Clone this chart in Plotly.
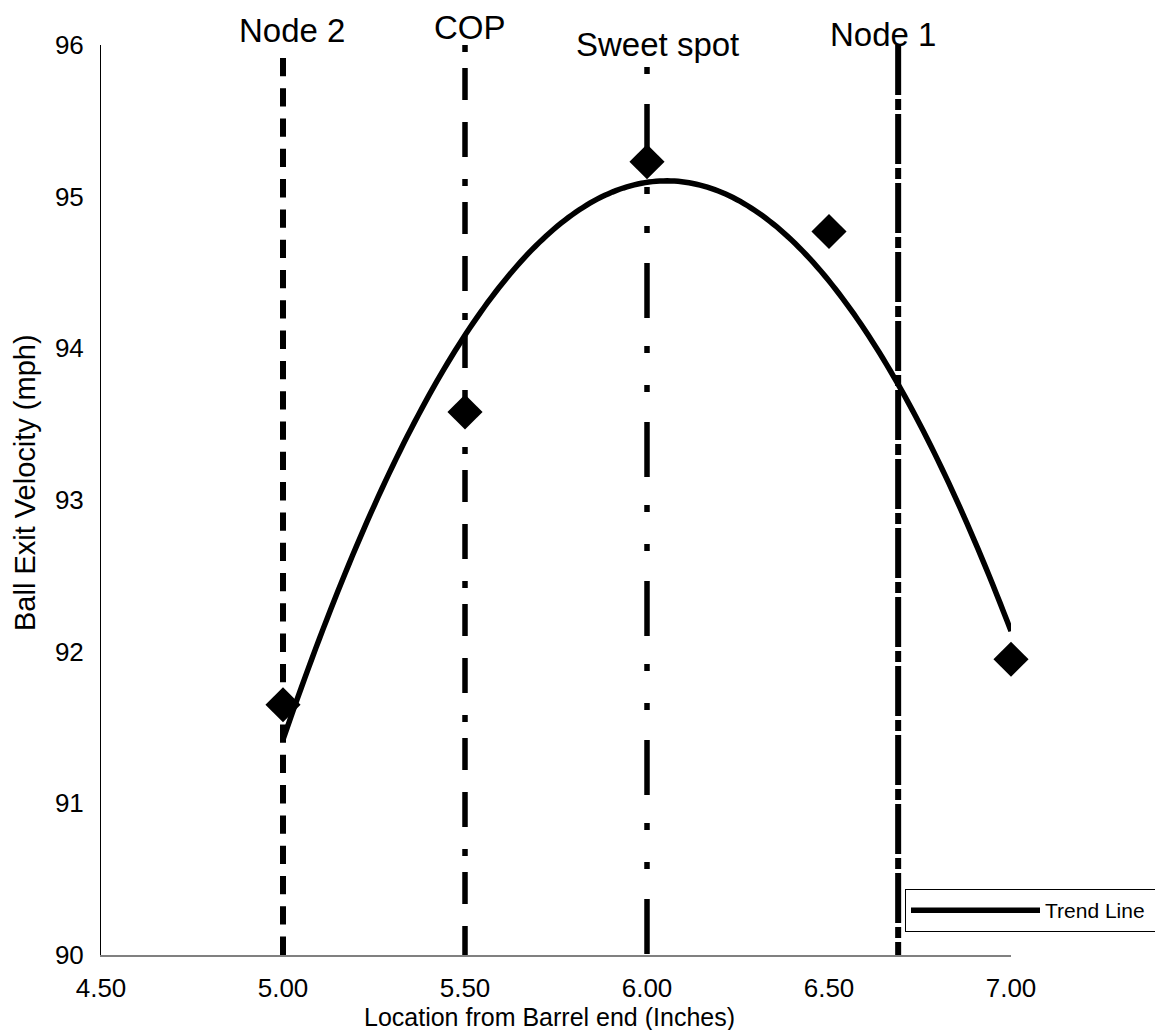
import numpy as np
import plotly.graph_objects as go

# ---- data ----
location = [5.00, 5.50, 6.00, 6.50, 7.00]
exit_velocity = [91.65, 93.58, 95.23, 94.77, 91.95]

ref_labels = ["Node 2", "COP", "Sweet spot", "Node 1"]
ref_x = [5.00, 5.50, 6.00, 6.69]

x_ticks = [4.50, 5.00, 5.50, 6.00, 6.50, 7.00]
y_ticks = [90, 91, 92, 93, 94, 95, 96]

# ---- styles ----
FONT = "Liberation Sans, Arial, sans-serif"
ref_styles = [
    dict(dash="18.3px,12px", width=6, top=95.915, xshift=9, ypx=30),
    dict(dash="7px,16px,32px,22px,35px,22px", width=5.5, top=96.0, xshift=5, ypx=27),
    dict(dash="7px,30px,55px,28px,7px,32px", width=5.5, top=95.855, xshift=10, ypx=44),
    dict(dash="50px,4px,11px,4px", width=6, top=96.0, xshift=-15, ypx=34),
]

W, H = 1155, 1030
ML, MR, MT, MB = 101, 144, 45, 75
PW = W - ML - MR
PH = H - MT - MB

fig = go.Figure()

# reference vertical lines
for lab, xv, st in zip(ref_labels, ref_x, ref_styles):
    fig.add_trace(go.Scatter(
        x=[xv, xv], y=[st["top"], y_ticks[0]], mode="lines",
        line=dict(color="black", width=st["width"], dash=st["dash"]),
        showlegend=False, hoverinfo="skip", cliponaxis=False))
    fig.add_annotation(
        x=xv, xref="x", y=1 + (MT - st["ypx"]) / PH, yref="paper",
        text=lab, showarrow=False, xshift=st["xshift"],
        xanchor="center", yanchor="middle",
        font=dict(family=FONT, size=33, color="black"))

# quadratic trend line (least-squares fit of the data)
coef = np.polyfit(location, exit_velocity, 2)
xt = np.linspace(min(location), max(location), 200)
fig.add_trace(go.Scatter(
    x=xt, y=np.polyval(coef, xt), mode="lines",
    name="Trend Line\u00a0\u00a0",
    line=dict(color="black", width=5.5, simplify=False), cliponaxis=False))

# data points
fig.add_trace(go.Scatter(
    x=location, y=exit_velocity, mode="markers", showlegend=False,
    marker=dict(symbol="diamond", size=27, color="black"), cliponaxis=False))

fig.update_layout(
    width=W, height=H,
    margin=dict(l=ML, r=MR, t=MT, b=MB, autoexpand=False),
    paper_bgcolor="white", plot_bgcolor="white",
    font=dict(family=FONT, color="black"),
    showlegend=True,
    legend=dict(
        x=(905 - ML) / PW, xanchor="left",
        y=(H - MB - 889) / PH, yanchor="top",
        bgcolor="white", bordercolor="black", borderwidth=1,
        font=dict(family=FONT, size=21, color="black"),
        itemwidth=129),
    # main axes: line + labels (transparent outside ticks push the labels out)
    xaxis=dict(
        range=[4.5, 7.0], tickvals=x_ticks, tickformat=".2f",
        ticks="outside", ticklen=9, tickcolor="rgba(0,0,0,0)",
        showline=True, linecolor="#808080", linewidth=2,
        showgrid=False, zeroline=False,
        tickfont=dict(size=26)),
    yaxis=dict(
        range=[90, 96], tickvals=y_ticks,
        ticks="outside", ticklen=11, tickcolor="rgba(0,0,0,0)",
        showline=True, linecolor="black", linewidth=1,
        showgrid=False, zeroline=False,
        tickfont=dict(size=26)),
    # overlay axes: visible inside tick marks only
    xaxis2=dict(
        overlaying="x", matches="x", anchor="y", side="bottom",
        tickvals=x_ticks, ticks="inside", ticklen=13, tickwidth=1,
        tickcolor="#555", showticklabels=False, showline=False,
        showgrid=False, zeroline=False),
    yaxis2=dict(
        overlaying="y", matches="y", anchor="x", side="left",
        tickvals=y_ticks, ticks="inside", ticklen=14, tickwidth=1,
        tickcolor="#555", showticklabels=False, showline=False,
        showgrid=False, zeroline=False),
)

# axis titles placed as annotations
fig.add_annotation(
    x=(549 - ML) / PW, xref="paper",
    y=(H - MB - 1017) / PH, yref="paper",
    text="Location from Barrel end (Inches)", showarrow=False,
    xanchor="center", yanchor="middle",
    font=dict(family=FONT, size=25, color="black"))
fig.add_annotation(
    x=(25 - ML) / PW, xref="paper",
    y=(H - MB - 483) / PH, yref="paper",
    text="Ball Exit Velocity (mph)", textangle=-90, showarrow=False,
    xanchor="center", yanchor="middle",
    font=dict(family=FONT, size=29, color="black"))

fig.write_html("out.html")
